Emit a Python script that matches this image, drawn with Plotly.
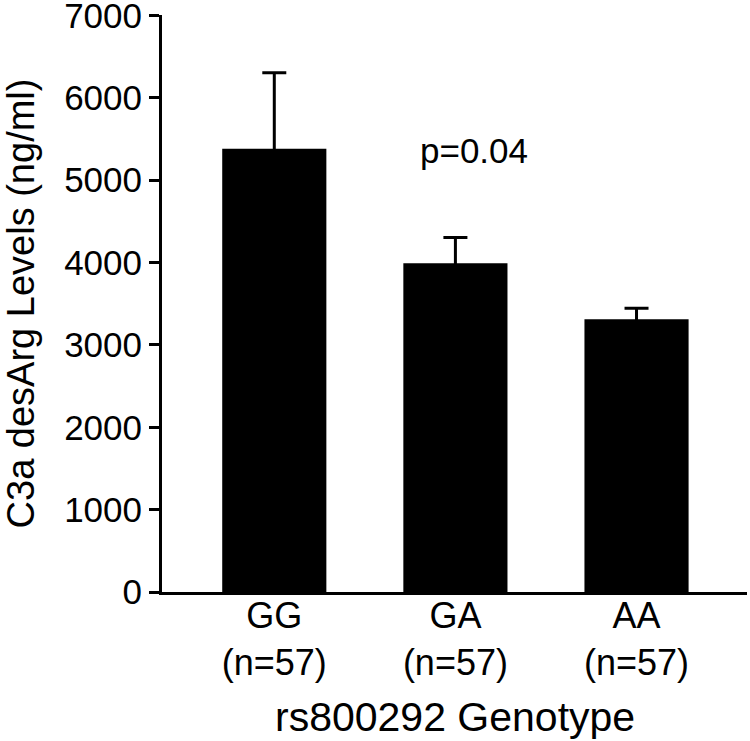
import plotly.graph_objects as go

genotypes = ["GG", "GA", "AA"]
n_labels = ["(n=57)", "(n=57)", "(n=57)"]
means = [5380, 3990, 3310]
sem = [925, 315, 135]
y_ticks = [0, 1000, 2000, 3000, 4000, 5000, 6000, 7000]
p_text = "p=0.04"
x_title = "rs800292 Genotype"
y_title = "C3a desArg Levels (ng/ml)"

FONT = "Liberation Sans, Arial, Helvetica, sans-serif"

x_labels = [f"{g}<br>{n}" for g, n in zip(genotypes, n_labels)]

fig = go.Figure()
fig.add_trace(go.Bar(
    x=x_labels,
    y=means,
    marker=dict(color="black", line=dict(width=0)),
    error_y=dict(type="data", array=sem, arrayminus=means,
                 symmetric=False, color="black", thickness=3, width=12),
    width=0.575,
))

fig.add_annotation(x=1.105, y=5360, text=p_text, showarrow=False,
                   xref="x", yref="y", font=dict(size=35, color="black", family=FONT))

fig.add_annotation(x=0.5, y=-0.2166, text=x_title, showarrow=False,
                   xref="paper", yref="paper", xanchor="center", yanchor="middle",
                   font=dict(size=41, color="black", family=FONT))

fig.update_layout(
    width=750, height=741,
    margin=dict(l=162, r=3, t=15, b=149),
    plot_bgcolor="white", paper_bgcolor="white",
    showlegend=False,
    font=dict(family=FONT, color="black", size=34),
    xaxis=dict(
        range=[-0.62, 2.61],
        automargin=False,
        showline=True, linecolor="black", linewidth=3,
        ticks="", showgrid=False, zeroline=False,
        tickfont=dict(size=36),
        ticklabelstandoff=-10,
    ),
    yaxis=dict(
        range=[0, 7005],
        automargin=False,
        tickvals=y_ticks,
        ticktext=[str(v) for v in y_ticks],
        ticklabeloverflow="allow",
        showline=True, linecolor="black", linewidth=3,
        ticks="outside", ticklen=10, tickwidth=3, tickcolor="black",
        showgrid=False, zeroline=False,
        tickfont=dict(size=35),
        title=dict(text=y_title, font=dict(size=38), standoff=30),
    ),
)

fig.write_html("out.html", config={"displayModeBar": False},
               post_script="document.body.style.margin='0px';")
